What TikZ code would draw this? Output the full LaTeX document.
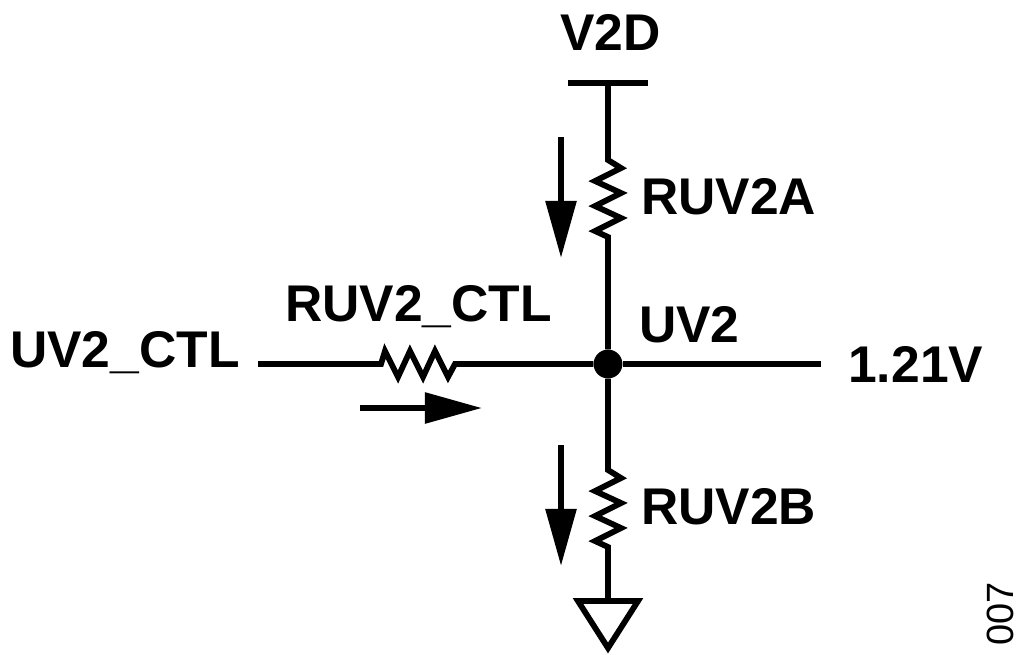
\documentclass[tikz,border=0pt]{standalone}
\usepackage{fontspec}
\setmainfont{Liberation Sans}
\usetikzlibrary{arrows.meta,positioning}

\begin{document}
\begin{tikzpicture}[
  x=0.025cm,y=-0.025cm,
  wire/.style={line width=0.145cm,line join=miter},
  flow/.style={line width=0.15cm,-{Triangle[length=1.43cm,width=0.75cm]}},
  lbl/.style={font=\fontsize{36.7}{42}\selectfont\bfseries,inner sep=0pt,anchor=base west},
  junction/.style={circle,fill=black,inner sep=0pt,minimum size=0.72cm}
]
  \useasboundingbox (0,0) rectangle (1024,654);
  % rail, junction and ends
  \node[junction] (uv2) at (608,364) {};
  \coordinate (v2d) at (608,83);
  \coordinate (v2dl) at (568,83);
  \coordinate (v2dr) at (648,83);
  \coordinate (ctl) at (258,364);
  \coordinate (out) at (821,364);
  \coordinate (gnd) at (608,601);
  \coordinate (ruvat) at (608,160);
  \coordinate (ruvab) at (608,237);
  \coordinate (ruvbt) at (608,470);
  \coordinate (ruvbb) at (608,547);
  \coordinate (ruvcl) at (381,364);
  \coordinate (ruvcr) at (455,364);
  % resistors
  \draw[wire] (v2dl) -- (v2dr);
  \draw[wire] (v2d) -- (ruvat) -- ++(13,8) -- ++(-26,13) -- ++(26,12) -- ++(-26,13)
    -- ++(26,12) -- ++(-26,13) -- (ruvab) -- (uv2);
  \draw[wire] (uv2) -- (ruvbt) -- ++(13,8) -- ++(-26,13) -- ++(26,12) -- ++(-26,13)
    -- ++(26,12) -- ++(-26,13) -- (ruvbb) -- (gnd);
  \draw[wire] (ctl) -- (ruvcl) -- ++(4,-13) -- ++(13,26) -- ++(12,-26) -- ++(13,26)
    -- ++(12,-26) -- ++(13,26) -- (ruvcr) -- (uv2);
  \draw[wire] (uv2) -- (out);
  \draw[wire] (gnd) -- ++(-30,0) -- ++(30,47) -- ++(30,-47) -- cycle;
  % current arrows
  \coordinate (ia1) at (561,137);
  \coordinate (ia2) at (561,258);
  \coordinate (ib1) at (561,445);
  \coordinate (ib2) at (561,566);
  \coordinate (ic1) at (360,408);
  \coordinate (ic2) at (482,408);
  \draw[flow] (ia1) -- (ia2);
  \draw[flow] (ib1) -- (ib2);
  \draw[flow] (ic1) -- (ic2);
  % labels
  \node[lbl] (lv2d) at (560,50) {V2D};
  \node[lbl] (lruva) at (641,214) {RUV2A};
  \node[lbl] (lruvc) at (285,321) {RUV2\_CTL};
  \node[lbl] (luv2) at (639,342) {UV2};
  \node[lbl] (lctl) at (10,367) {UV2\_CTL};
  \node[lbl] (lout) at (848,382) {1.21V};
  \node[lbl] (lruvb) at (641,524) {RUV2B};
  \node[font=\fontsize{27}{30}\selectfont,inner sep=0pt,rotate=90,anchor=base west] (fig) at (1013,646) {007};
\end{tikzpicture}
\end{document}
